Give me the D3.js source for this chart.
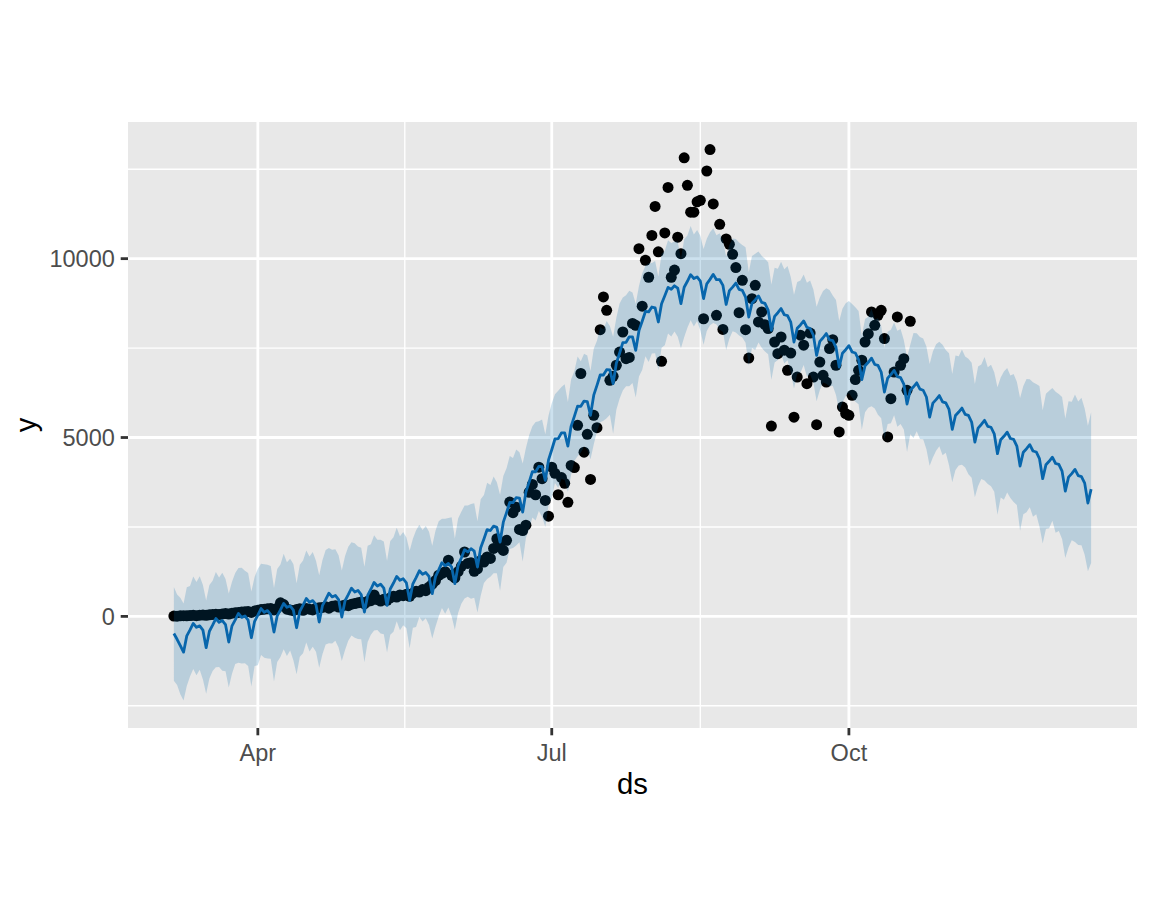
<!DOCTYPE html>
<html><head><meta charset="utf-8">
<script src="https://cdn.jsdelivr.net/npm/d3@7"></script>
<style>html,body{margin:0;padding:0;background:#fff;} svg{display:block;}</style>
</head><body>
<svg id="chart" width="1152" height="921"></svg>
<script>
// ---------- data ----------
const startDate = "2020-03-06";   // first ds value, one row per day
const xLabel = "ds";
const yLabel = "y";
const yTickValues = [0, 5000, 10000];
const xTickFormat = "%b";

// observed history (one value per day from startDate)
const observedY = [
10,5,15,20,15,25,30,20,35,40,30,
45,55,60,50,70,80,65,90,100,110,
120,130,140,110,150,170,190,200,210,220,180,230,
380,330,
200,180,160,190,210,170,220,200,180,230,
240,250,270,230,280,300,260,290,320,300,340,
360,380,400,350,420,440,600,470,430,480,
450,520,560,540,600,580,620,560,650,700,680,750,720,820,
900,1000,1150,1200,1250,1570,1150,1080,1250,1400,1800,1480,1500,1260,1330,1560,1520,1660,1620,1900,
2170,1950,1845,2125,3195,2900,3050,2430,2400,2550,3470,3690,3400,4170,3850,3240,2800,
4170,4000,3400,3880,3720,3190,4220,4160,
5340,6790,4590,5090,3830,5620,5275,8015,8930,8555,6600,6710,7020,7390,7950,7205,7240,8190,8135,
10280,8670,9955,9480,10650,11460,10190,7130,10720,11990,9480,9680,10600,10140,12820,12050,11300,11300,11590,11630,
8320,12450,13050,11530,8415,10960,8020,10550,10400,
10120,9750,8490,9395,8015,7220,8880,9255,8230,8510,8155,8045,5320,7670,7345,7810,7440,6880,7360,5570,
6690,7860,7580,6505,7920,6690,5360,7110,6740,6550,7485,7735,7020,5155,5850,5670,5620,6180,6620,6880,
7160,7670,7900,8510,8135,8415,8555,7765,5015,6085,6830,8370,7020,7205,6320,8250
];

// fitted / forecast values (one value per day from startDate)
const yhat = [
-480,-640,-820,
-1000,-545,-379,-198,-306,-265,-384,
-875,-416,-245,-60,-163,-118,-232,
-718,-264,-98,82,-27,13,-105,
-597,-137,33,219,116,162,48,
-438,16,182,362,253,293,175,
-317,143,313,499,396,442,328,
-158,299,467,650,544,586,470,
-19,438,606,789,683,726,610,
121,585,759,949,850,900,790,
308,765,933,1116,1010,1052,936,
447,911,1085,1275,1176,1226,1116,
634,1111,1299,1502,1416,1479,1383,
914,1418,1632,1862,1802,1892,1823,
1380,1917,2164,2427,2400,2523,2487,
2077,2634,2902,3185,3179,3322,3305,
2916,3479,3754,4043,4043,4193,4183,
3800,4374,4659,4959,4970,5131,5132,
4760,5320,5591,5877,5873,6019,6006,
5620,6184,6458,6748,6748,6898,6889,
6506,7076,7357,7653,7660,7816,7813,
7437,7987,8248,8524,8512,8648,8625,
8229,8739,8961,9197,9145,9241,9178,
8743,9200,9368,9551,9445,9488,9372,
8883,9297,9421,9561,9412,9411,9252,
8720,9107,9204,9317,9141,9113,8927,
8368,8752,8847,8957,8778,8748,8559,
7997,8387,8489,8605,8432,8408,8226,
7670,8054,8148,8258,8079,8048,7859,
7297,7687,7789,7905,7732,7708,7526,
6970,7357,7454,7567,7391,7363,7177,
6618,7005,7104,7217,7042,7015,6829,
6271,6660,6761,6876,6702,6677,6494,
5937,6322,6418,6529,6351,6321,6133,
5572,5960,6059,6173,5998,5971,5786,
5228,5614,5712,5824,5647,5619,5433,
4873,5264,5365,5482,5310,5287,5104,
4549,4937,5035,5149,4973,4947,4762,
4203,4590,4687,4800,4623,4596,4410,
3850,4237,4336,4449,4274,4247,4061,
3503,3892,3992,4107,3933,3908,3725,
3168,3557
];

const yhatUpper = [
820,610,520,
360,815,851,1112,964,1125,876,
445,874,995,1240,1087,1222,1048,
642,966,1212,1352,1363,1273,1215,
693,1103,1333,1469,1456,1442,1408,
792,1326,1452,1752,1513,1613,1465,
923,1443,1563,1839,1676,1802,1558,
1152,1569,1857,1910,1864,1876,1710,
1281,1688,1946,2069,2043,1956,1920,
1391,1975,2019,2269,2140,2140,2090,
1558,2105,2213,2476,2240,2362,2206,
1837,2171,2405,2565,2416,2526,2366,
1974,2391,2659,2732,2726,2749,2773,
2174,2738,2922,3102,3102,3142,3163,
2660,3277,3394,3737,3670,3913,3747,
3397,3924,4142,4485,4429,4662,4585,
4276,4709,5064,5313,5433,5453,5503,
5090,5614,5959,6209,6310,6411,6492,
5990,6630,6861,7267,7133,7339,7296,
6860,7484,7708,8088,8028,8258,8119,
7816,8346,8747,8913,8980,9106,9053,
8737,9237,9588,9804,9872,9878,9935,
9499,10129,10221,10517,10435,10481,10478,
9993,10540,10648,10911,10675,10798,10642,
10273,10557,10741,10851,10652,10711,10502,
10060,10387,10564,10547,10451,10383,10317,
9628,10072,10137,10197,10078,9998,9899,
9277,9747,9719,9915,9702,9798,9486,
8990,9344,9388,9558,9329,9388,9139,
8657,8917,9099,9175,9122,8968,8846,
8260,8597,8754,8817,8731,8643,8537,
7848,8315,8374,8607,8302,8335,8119,
7511,7960,8011,8216,7982,8037,7724,
7247,7592,
7922,7916,7812,7765,7541,
7053,7405,7607,7675,7593,7450,7358,
6774,7293,7275,7460,7267,7202,7090,
6493,6988,7042,7253,6964,7035,6825,
6404,6675,6847,6944,6732,6779,6558,
6102,6443,6633,6630,6546,6493,6440,
5764,6224,6307,6383,6282,6218,6136,
5531,6014,5997,6206,6005,6114,5814,
5331,5703
];

const yhatLower = [
-1800,-1920,-2180,
-2350,-1945,-1679,-1468,-1646,-1495,-1764,
-2165,-1736,-1525,-1420,-1413,-1518,-1532,
-1988,-1604,-1328,-1298,-1317,-1307,-1385,
-1957,-1387,-1367,-1081,-1154,-1178,-1182,
-1818,-1274,-1138,-918,-1107,-957,-1225,
-1617,-1127,-1027,-731,-984,-848,-992,
-1438,-1061,-783,-750,-756,-684,-870,
-1249,-942,-684,-531,-597,-634,-640,
-1279,-715,-511,-391,-380,-480,-500,
-1012,-515,-427,-134,-390,-248,-334,
-893,-319,-295,-15,-144,-54,-244,
-616,-289,-1,232,76,249,3,
-376,98,352,502,552,492,523,
110,577,934,1047,1110,1203,1207,
717,1384,1502,1885,1909,1982,2075,
1536,2189,2434,2763,2683,2943,2783,
2500,3104,3319,3729,3590,3841,3812,
3480,3960,4341,4477,4573,4749,4666,
4390,4804,5168,5428,5468,5538,5639,
5106,5776,6087,6313,6430,6436,6523,
6117,6707,6888,7274,7112,7348,7355,
6889,7509,7581,7907,7825,7961,7818,
7493,7800,8068,8281,8105,8258,7992,
7593,7977,8141,8201,8162,8011,7952,
7450,7767,7974,7937,7851,7793,7647,
7008,7502,7447,7657,7508,7408,7329,
6617,7097,7169,7325,7072,7158,6826,
6370,6784,6808,7028,6699,6758,6539,
6017,6327,6539,6505,6432,6438,6186,
5740,5977,6164,6247,6111,6003,5927,
5218,5705,5834,5877,5812,5635,5539,
4951,5380,5401,5626,5302,5377,5224,
4597,5092,
4986,5176,4956,4955,4675,
4213,4439,4627,4759,4503,4574,4228,
3748,4093,4219,4240,4161,3972,3874,
3333,3642,3842,3797,3704,3639,3485,
2838,3325,3261,3464,3306,3199,3112,
2392,2857,2913,3054,2786,2857,2510,
2038,2444,2461,2673,2336,2388,2160,
1631,1928,2127,2080,1995,1988,1724,
1265,1493
];

// ---------- build rows ----------
const t0 = d3.utcParse("%Y-%m-%d")(startDate);
const rows = yhat.map((v, i) => ({
  ds: d3.utcDay.offset(t0, i),
  yhat: v, lo: yhatLower[i], hi: yhatUpper[i],
  y: i < observedY.length ? observedY[i] : null
}));

// ---------- layout ----------
const panel = {left: 128, top: 122, right: 1137, bottom: 728};
const svg = d3.select("#chart");
svg.append("rect").attr("width", 1152).attr("height", 921).attr("fill", "#ffffff");

// x scale with ggplot 5% expansion
const xExt = d3.extent(rows, d => d.ds);
const xSpan = xExt[1] - xExt[0];
const x = d3.scaleUtc()
  .domain([new Date(+xExt[0] - 0.05 * xSpan), new Date(+xExt[1] + 0.05 * xSpan)])
  .range([panel.left, panel.right]);

const yMin = Math.min(d3.min(yhatLower), d3.min(observedY), d3.min(yhat));
const yMax = Math.max(d3.max(yhatUpper), d3.max(observedY), d3.max(yhat));
const ySpan = yMax - yMin;
const y = d3.scaleLinear()
  .domain([yMin - 0.05 * ySpan, yMax + 0.05 * ySpan])
  .range([panel.bottom, panel.top]);

// panel background
svg.append("rect")
  .attr("x", panel.left).attr("y", panel.top)
  .attr("width", panel.right - panel.left).attr("height", panel.bottom - panel.top)
  .attr("fill", "#E8E8E8");

// grid
const xMajor = d3.utcMonth.every(3).range(x.domain()[0], x.domain()[1]);
const quarterAll = d3.utcMonth.every(3).range(d3.utcYear.floor(x.domain()[0]), d3.utcYear.offset(d3.utcYear.floor(x.domain()[1]), 1));
const xMinor = [];
for (let i = 0; i < quarterAll.length - 1; i++) {
  const m = new Date((+quarterAll[i] + +quarterAll[i + 1]) / 2);
  if (m >= x.domain()[0] && m <= x.domain()[1]) xMinor.push(m);
}
const yStep = yTickValues[1] - yTickValues[0];
const yMinor = [];
for (let v = yTickValues[0] - yStep / 2; v <= y.domain()[1]; v += yStep) {
  if (v >= y.domain()[0]) yMinor.push(v);
}

const grid = svg.append("g");
grid.selectAll(".ymin").data(yMinor).join("line")
  .attr("x1", panel.left).attr("x2", panel.right)
  .attr("y1", d => y(d)).attr("y2", d => y(d))
  .attr("stroke", "#ffffff").attr("stroke-width", 1.4);
grid.selectAll(".xmin").data(xMinor).join("line")
  .attr("y1", panel.top).attr("y2", panel.bottom)
  .attr("x1", d => x(d)).attr("x2", d => x(d))
  .attr("stroke", "#ffffff").attr("stroke-width", 1.4);
grid.selectAll(".ymaj").data(yTickValues).join("line")
  .attr("x1", panel.left).attr("x2", panel.right)
  .attr("y1", d => y(d)).attr("y2", d => y(d))
  .attr("stroke", "#ffffff").attr("stroke-width", 2.8);
grid.selectAll(".xmaj").data(xMajor).join("line")
  .attr("y1", panel.top).attr("y2", panel.bottom)
  .attr("x1", d => x(d)).attr("x2", d => x(d))
  .attr("stroke", "#ffffff").attr("stroke-width", 2.8);

// points
svg.append("g").selectAll("circle")
  .data(rows.filter(d => d.y !== null)).join("circle")
  .attr("cx", d => x(d.ds)).attr("cy", d => y(d.y)).attr("r", 5.5)
  .attr("fill", "#000000");

// forecast line
svg.append("path").datum(rows)
  .attr("d", d3.line().x(d => x(d.ds)).y(d => y(d.yhat)))
  .attr("fill", "none").attr("stroke", "#0A66AD").attr("stroke-width", 2.8)
  .attr("stroke-linejoin", "round");

// uncertainty ribbon (drawn on top, alpha 0.2)
svg.append("path").datum(rows)
  .attr("d", d3.area().x(d => x(d.ds)).y0(d => y(d.lo)).y1(d => y(d.hi)))
  .attr("fill", "#0068A8").attr("fill-opacity", 0.2);

// axes
const font = "'Liberation Sans', Arial, Helvetica, sans-serif";
const xAxis = svg.append("g");
xAxis.selectAll("line").data(xMajor).join("line")
  .attr("x1", d => x(d)).attr("x2", d => x(d))
  .attr("y1", panel.bottom).attr("y2", panel.bottom + 7.3)
  .attr("stroke", "#333333").attr("stroke-width", 2.8);
xAxis.selectAll("text").data(xMajor).join("text")
  .attr("x", d => x(d)).attr("y", 761)
  .attr("text-anchor", "middle")
  .attr("font-family", font).attr("font-size", 23.5).attr("fill", "#4D4D4D")
  .text(d => d3.utcFormat(xTickFormat)(d));

const yAxis = svg.append("g");
yAxis.selectAll("line").data(yTickValues).join("line")
  .attr("x1", panel.left - 7.3).attr("x2", panel.left)
  .attr("y1", d => y(d)).attr("y2", d => y(d))
  .attr("stroke", "#333333").attr("stroke-width", 2.8);
yAxis.selectAll("text").data(yTickValues).join("text")
  .attr("x", panel.left - 7.3 - 5.9).attr("y", d => y(d) + 8.4)
  .attr("text-anchor", "end")
  .attr("font-family", font).attr("font-size", 23.5).attr("fill", "#4D4D4D")
  .text(d => d3.format("d")(d));

// titles
svg.append("text")
  .attr("x", (panel.left + panel.right) / 2).attr("y", 794)
  .attr("text-anchor", "middle")
  .attr("font-family", font).attr("font-size", 29.3).attr("fill", "#000000")
  .text(xLabel);
svg.append("text")
  .attr("transform", `translate(36,${(panel.top + panel.bottom) / 2}) rotate(-90)`)
  .attr("text-anchor", "middle")
  .attr("font-family", font).attr("font-size", 29.3).attr("fill", "#000000")
  .text(yLabel);
</script>
</body></html>
